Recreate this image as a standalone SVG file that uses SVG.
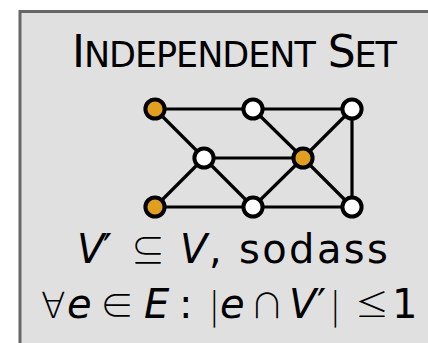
<svg xmlns="http://www.w3.org/2000/svg" width="428" height="343" viewBox="0 0 428 343">
<style>
.edge{stroke:#000;stroke-width:3.2;fill:none}
.v{stroke:#000;stroke-width:4;fill:#fff}
.sel{fill:#e09f1f}
.t{font-family:"DejaVu Sans",sans-serif;fill:#000;font-size:40px}
.it{font-style:italic}
.sym{font-family:"Noto Sans CJK JP","DejaVu Sans",sans-serif;font-weight:300;font-size:34px}
.fa{font-family:"DejaVu Sans",sans-serif;font-weight:200;font-size:36px}
.pr{font-style:normal}
</style>
<rect x="0" y="0" width="428" height="343" fill="#fff"/>
<rect x="20" y="11.5" width="500" height="400" fill="#e0e0e0" stroke="#666" stroke-width="3"/>
<g id="title">
<text class="t" x="72" y="67" style="font-size:44px" textLength="325" lengthAdjust="spacing">I<tspan style="font-size:35px">NDEPENDENT</tspan> S<tspan style="font-size:35px">ET</tspan></text>
</g>
<g id="connectors">
<line class="edge" x1="155" y1="109" x2="253" y2="109"/>
<line class="edge" x1="253" y1="109" x2="352" y2="109"/>
<line class="edge" x1="155" y1="109" x2="204" y2="158"/>
<line class="edge" x1="253" y1="109" x2="303" y2="158"/>
<line class="edge" x1="352" y1="109" x2="303" y2="158"/>
<line class="edge" x1="352" y1="109" x2="352" y2="207"/>
<line class="edge" x1="204" y1="158" x2="303" y2="158"/>
<line class="edge" x1="204" y1="158" x2="155" y2="207"/>
<line class="edge" x1="204" y1="158" x2="253" y2="207"/>
<line class="edge" x1="303" y1="158" x2="253" y2="207"/>
<line class="edge" x1="303" y1="158" x2="352" y2="207"/>
<line class="edge" x1="155" y1="207" x2="253" y2="207"/>
<line class="edge" x1="253" y1="207" x2="352" y2="207"/>
</g>
<g id="n1"><circle class="v sel" cx="155" cy="109" r="9.6"/></g>
<g id="n2"><circle class="v" cx="253" cy="109" r="9.6"/></g>
<g id="n3"><circle class="v" cx="352" cy="109" r="9.6"/></g>
<g id="n4"><circle class="v" cx="204" cy="158" r="9.6"/></g>
<g id="n5"><circle class="v sel" cx="303" cy="158" r="9.6"/></g>
<g id="n6"><circle class="v sel" cx="155" cy="207" r="9.6"/></g>
<g id="n7"><circle class="v" cx="253" cy="207" r="9.6"/></g>
<g id="n8"><circle class="v" cx="352" cy="207" r="9.6"/></g>
<g id="formula">
<text class="t" y="263"><tspan class="it" x="77">V</tspan><tspan class="pr" x="103">′</tspan><tspan class="sym" x="131">⊆</tspan><tspan class="it" x="180">V</tspan><tspan x="209">,</tspan><tspan x="239" letter-spacing="2.4">sodass</tspan></text>
<text class="t" y="318"><tspan class="fa" x="41">∀</tspan><tspan class="it" x="67">e</tspan><tspan class="sym" x="100">∈</tspan><tspan class="it" x="144">E</tspan><tspan x="179">:</tspan><tspan class="sym" x="210">|</tspan><tspan class="it" x="220">e</tspan><tspan class="sym" x="250">∩</tspan><tspan class="it" x="289">V</tspan><tspan class="pr" x="317">′</tspan><tspan class="sym" x="331">|</tspan><tspan class="sym" x="355">≤</tspan><tspan x="392">1</tspan></text>
</g>
</svg>
